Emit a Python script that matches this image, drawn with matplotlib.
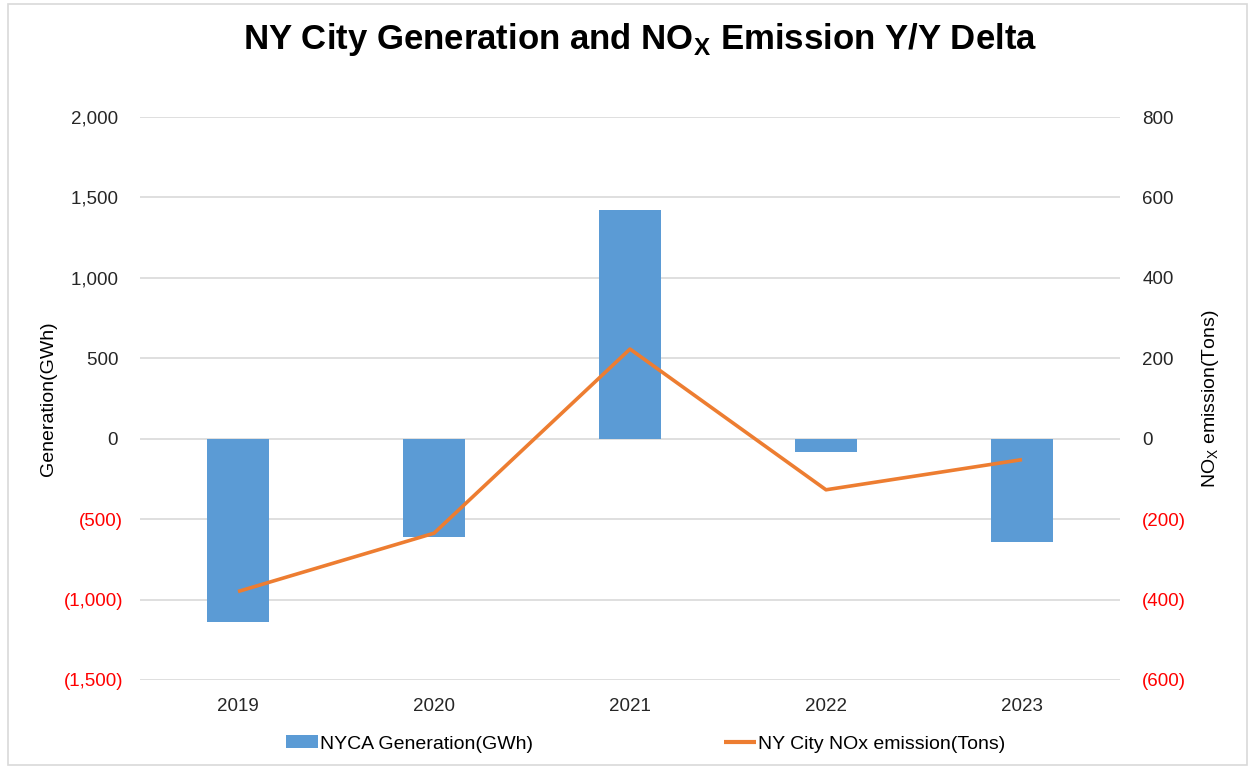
import matplotlib
matplotlib.use("Agg")
import matplotlib.pyplot as plt
from matplotlib.ticker import FuncFormatter
from matplotlib.patches import Rectangle

years = ["2019", "2020", "2021", "2022", "2023"]
generation = [-1140, -610, 1420, -85, -645]
nox = [-380, -235, 223, -127, -52]
left_ticks = [-1500, -1000, -500, 0, 500, 1000, 1500, 2000]
right_ticks = [-600, -400, -200, 0, 200, 400, 600, 800]

plt.rcParams['font.family'] = ['Liberation Sans', 'DejaVu Sans']
narrow = ['Liberation Sans Narrow', 'Liberation Sans', 'DejaVu Sans']

fig = plt.figure(figsize=(12.51, 7.69), dpi=100)
ax = fig.add_axes([140/1251, 1-680/769, 980/1251, 563/769])
ax2 = ax.twinx()

x = list(range(len(years)))
bars = ax.bar(x, generation, width=0.32, color='#5B9BD5', label='NYCA Generation(GWh)', zorder=3)
line, = ax2.plot(x, nox, color='#ED7D31', lw=2.6, label='NY City NOx emission(Tons)',
                 solid_capstyle='butt', zorder=4)

ax.set_xlim(-0.5, len(years)-0.5)
ax.set_ylim(-1500, 2000)
ax2.set_ylim(-600, 800)
ax.set_yticks(left_ticks)
ax2.set_yticks(right_ticks)

def fmt_left(v, pos=None):
    v = int(round(v))
    if v < 0:
        return "({:,})".format(-v)
    return "{:,} ".format(v)

def fmt_right(v, pos=None):
    v = int(round(v))
    if v < 0:
        return "({:,})".format(-v)
    return "{:,}".format(v)

ax.yaxis.set_major_formatter(FuncFormatter(fmt_left))
ax2.yaxis.set_major_formatter(FuncFormatter(fmt_right))
ax.set_xticks(x)
ax.set_xticklabels(years)

for a in (ax, ax2):
    for s in a.spines.values():
        s.set_visible(False)
    a.tick_params(length=0, labelsize=13.5, colors='#262626')
ax.tick_params(axis='y', pad=12)
ax2.tick_params(axis='y', pad=16)
ax.tick_params(axis='x', pad=13)

for lab, v in zip(ax.get_yticklabels(), left_ticks):
    lab.set_color('red' if v < 0 else '#262626')
for lab, v in zip(ax2.get_yticklabels(), right_ticks):
    lab.set_color('red' if v < 0 else '#262626')

ax.yaxis.grid(True, color='#D9D9D9', lw=1.2, zorder=0)
ax.set_axisbelow(True)

ax.set_ylabel('Generation(GWh)', fontsize=14, family=narrow, labelpad=5, color='#000000')
ax2.set_ylabel('NO$_\\mathregular{X}$ emission(Tons)', fontsize=14, family=narrow, labelpad=10, color='#000000')

fig.text(640/1251, 1-40/769, 'NY City Generation and NO$_\\mathregular{X}$ Emission Y/Y Delta',
         ha='center', va='center', fontsize=25, fontweight='bold')

leg = fig.legend([bars, line], ['NYCA Generation(GWh)', 'NY City NOx emission(Tons)'],
                 loc='center', bbox_to_anchor=(0.516, 1-744/769), ncol=2, frameon=False,
                 prop={'family': narrow, 'size': 14}, handlelength=1.65, handleheight=0.6,
                 handletextpad=0.1, columnspacing=9.8)
for h in leg.legend_handles:
    try:
        h.set_linewidth(3)
    except Exception:
        pass

fig.patches.append(Rectangle((8/1251, 4/769), 1239/1251, 761/769, transform=fig.transFigure,
                             fill=False, edgecolor='#D9D9D9', lw=1.2))

fig.savefig('out.png', dpi=100)
